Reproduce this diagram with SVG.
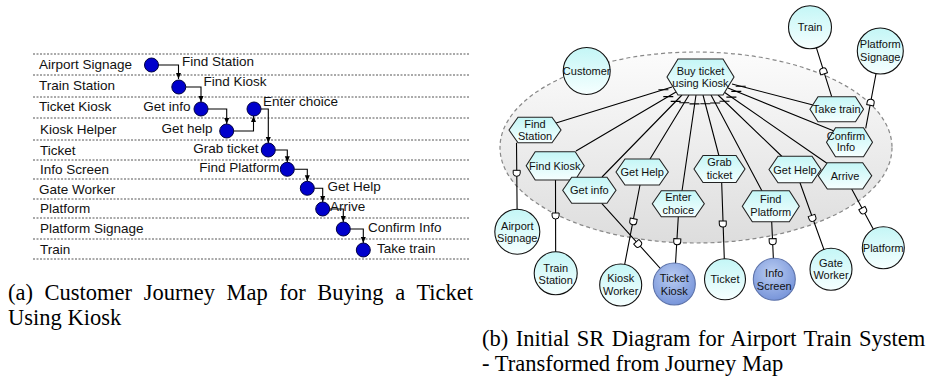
<svg xmlns="http://www.w3.org/2000/svg" width="935" height="381" viewBox="0 0 935 381">
<style>
.lane{stroke:#555;stroke-width:1;stroke-dasharray:2 1.5;fill:none}
.lt{font-family:"Liberation Sans",Arial,sans-serif;font-size:13.5px;fill:#111}
.ltr{font-family:"Liberation Sans",Arial,sans-serif;font-size:13.5px;fill:#111;text-anchor:end}
.dot{fill:#0000cc;stroke:#000040;stroke-width:1}
.flow{fill:none;stroke:#000;stroke-width:1.1;marker-end:url(#arr)}
.st{font-family:"Liberation Sans",Arial,sans-serif;font-size:11px;fill:#111;text-anchor:middle}
.act{fill:url(#gc);stroke:#111;stroke-width:1.1}
.actb{fill:url(#gb);stroke:#5d73aa;stroke-width:1.1}
.task{fill:url(#gc);stroke:#222;stroke-width:1.1}
.lnk{stroke:#000;stroke-width:1.1;fill:none}
.tick{stroke:#000;stroke-width:1.1}
.cap{font-family:"Liberation Serif","Times New Roman",serif;font-size:22.5px;fill:#000}
</style>
<defs>
<marker id="arr" viewBox="0 0 6 6" refX="6" refY="3" markerWidth="6" markerHeight="6" markerUnits="userSpaceOnUse" orient="auto"><path d="M0,0.5 L6,3 L0,5.5 Z" fill="#000"/></marker>
<linearGradient id="gc" x1="0" y1="0" x2="0" y2="1"><stop offset="0" stop-color="#c4f6f6"/><stop offset="1" stop-color="#f6ffff"/></linearGradient>
<radialGradient id="gb" cx="0.45" cy="0.35" r="0.65"><stop offset="0" stop-color="#b9ccf1"/><stop offset="1" stop-color="#7895da"/></radialGradient>
<linearGradient id="ge" x1="0" y1="0" x2="0" y2="1"><stop offset="0" stop-color="#fcfcfc"/><stop offset="1" stop-color="#dddddd"/></linearGradient>
<path id="dm" d="M-3.5,-3 H3.5 V0 A3.5,3 0 0 1 -3.5,0 Z" fill="#fff" stroke="#000" stroke-width="1"/>
</defs>

<!-- (a) Journey map -->
<g id="lanes">
<path class="lane" d="M33,54H470M33,75H470M33,97H470M33,118H470M33,140H470M33,160H470M33,179H470M33,199H470M33,218H470M33,239H470M33,259H470"/>
<text class="lt" x="39" y="68.5">Airport Signage</text>
<text class="lt" x="39" y="89.5">Train Station</text>
<text class="lt" x="39" y="110.5">Ticket Kiosk</text>
<text class="lt" x="40" y="133.5">Kiosk Helper</text>
<text class="lt" x="40" y="154.5">Ticket</text>
<text class="lt" x="40" y="173.5">Info Screen</text>
<text class="lt" x="39" y="193.5">Gate Worker</text>
<text class="lt" x="40" y="212.5">Platform</text>
<text class="lt" x="40" y="232.5">Platform Signage</text>
<text class="lt" x="40" y="253.5">Train</text>
</g>
<g id="journey-connectors">
<path class="flow" d="M158,65H178.5V79"/>
<path class="flow" d="M186,87H201V102"/>
<path class="flow" d="M208,109H226.7V124"/>
<path class="flow" d="M233.7,131H253.5V116"/>
<path class="flow" d="M261,109H268.3V143"/>
<path class="flow" d="M275.3,150H287.3V162.3"/>
<path class="flow" d="M294.3,169.3H307.3V181.3"/>
<path class="flow" d="M314.3,188.3H322.7V202"/>
<path class="flow" d="M329.7,209H343.3V222"/>
<path class="flow" d="M350.3,229H363.3V243"/>
</g>
<g id="j-find-station"><circle class="dot" cx="151.5" cy="65" r="7"/><text class="lt" x="182" y="66">Find Station</text></g>
<g id="j-find-kiosk"><circle class="dot" cx="178.8" cy="87" r="7"/><text class="lt" x="203.5" y="86">Find Kiosk</text></g>
<g id="j-get-info"><circle class="dot" cx="201" cy="109" r="7"/><text class="ltr" x="190.5" y="111">Get info</text></g>
<g id="j-get-help"><circle class="dot" cx="226.7" cy="131" r="7"/><text class="ltr" x="212.5" y="133">Get help</text></g>
<g id="j-enter-choice"><circle class="dot" cx="254" cy="109" r="7"/><text class="lt" x="263" y="106">Enter choice</text></g>
<g id="j-grab-ticket"><circle class="dot" cx="268.3" cy="150" r="7"/><text class="ltr" x="258.5" y="152.5">Grab ticket</text></g>
<g id="j-find-platform"><circle class="dot" cx="287.3" cy="169.3" r="7"/><text class="ltr" x="279.5" y="172">Find Platform</text></g>
<g id="j-get-help2"><circle class="dot" cx="307.3" cy="188.3" r="7"/><text class="lt" x="327.5" y="191">Get Help</text></g>
<g id="j-arrive"><circle class="dot" cx="322.7" cy="209" r="7"/><text class="lt" x="330" y="211">Arrive</text></g>
<g id="j-confirm-info"><circle class="dot" cx="343.3" cy="229" r="7"/><text class="lt" x="368" y="232">Confirm Info</text></g>
<g id="j-take-train"><circle class="dot" cx="363.3" cy="250" r="7"/><text class="lt" x="377" y="253">Take train</text></g>

<!-- (b) SR diagram -->
<g id="boundary"><ellipse cx="696" cy="147.5" rx="196" ry="95.5" fill="url(#ge)" stroke="#888" stroke-width="1.2" stroke-dasharray="4 3"/></g>
<g id="sr-connectors">
<path class="lnk" d="M556,123L672,87M576,151L676,92M602,177L682,95M650,159L689,95M682,191L696,95M719,156L703,95M762,191L711,95M782,156.5L718,95M828,164L724,92M834,131L728,88M813,105L732,84"/>
<path class="tick" d="M658.4,89.7h10M663.3,96.6h10M670.7,101.4h10M679.3,102.7h10M689.5,103.9h10M700.3,103.7h10M710.2,103h10M719.5,101.2h10M726.4,97.1h10M731.3,91.4h10M735.7,86.2h10"/>
<path class="lnk" d="M516.5,142.7L517.3,231.7M555.5,180L555.7,273.3M640,185L620.7,285M601.7,203.3L674.3,284M678.3,216.7L674.3,284M721.7,183L725,279.3M771.7,221.7L774.3,279.3M800,182.7L831,269.3M851.7,189L883.3,247.7M831.7,96.7L810,27.3M865.7,128.3L880.3,51"/>
<use href="#dm" transform="translate(516.7,173.3)"/>
<use href="#dm" transform="translate(555.6,216)"/>
<use href="#dm" transform="translate(633.2,221.7) rotate(10.6)"/>
<use href="#dm" transform="translate(638.3,244) rotate(-41.9)"/>
<use href="#dm" transform="translate(677.2,241.7) rotate(2.7)"/>
<use href="#dm" transform="translate(722.8,224) rotate(-1.7)"/>
<use href="#dm" transform="translate(772.7,241.7) rotate(-1.6)"/>
<use href="#dm" transform="translate(812.5,218.3) rotate(-19.1)"/>
<use href="#dm" transform="translate(863.3,210.7) rotate(-28.2)"/>
<use href="#dm" transform="translate(823.2,71) rotate(161.7)"/>
<use href="#dm" transform="translate(870.7,102.3) rotate(-169.2)"/>
</g>
<g id="t-buy-ticket"><polygon class="task" points="667,77 678,59 723,59 734,77 723,95 678,95"/><text class="st" x="700.5" y="74.5">Buy ticket</text><text class="st" x="700.5" y="87.2">using Kiosk</text></g>
<g id="t-find-station"><polygon class="task" points="509,130 518,117.3 552,117.3 561,130 552,142.7 518,142.7"/><text class="st" x="535" y="128">Find</text><text class="st" x="535" y="140">Station</text></g>
<g id="t-take-train"><polygon class="task" points="810,109.2 818,96.7 855.5,96.7 863.5,109.2 855.5,121.7 818,121.7"/><text class="st" x="836.7" y="113.2">Take train</text></g>
<g id="t-confirm-info"><polygon class="task" points="826.5,142.2 835.5,127.7 863.5,127.7 872.5,142.2 863.5,156.7 835.5,156.7"/><text class="st" x="846" y="139.7">Confirm</text><text class="st" x="846" y="151.3">Info</text></g>
<g id="t-find-kiosk"><polygon class="task" points="526.2,165.8 535.2,151.7 575.2,151.7 584.2,165.8 575.2,180 535.2,180"/><text class="st" x="554.8" y="169.8">Find Kiosk</text></g>
<g id="t-get-info"><polygon class="task" points="562.7,190.3 571.7,177.3 607,177.3 616,190.3 607,203.3 571.7,203.3"/><text class="st" x="589.3" y="194.3">Get info</text></g>
<g id="t-get-help1"><polygon class="task" points="616,172 625,159 659.3,159 668.3,172 659.3,185 625,185"/><text class="st" x="642.2" y="176">Get Help</text></g>
<g id="t-enter-choice"><polygon class="task" points="652.3,203.7 661.3,190.7 695.3,190.7 704.3,203.7 695.3,216.7 661.3,216.7"/><text class="st" x="678.3" y="200.7">Enter</text><text class="st" x="678.3" y="213.5">choice</text></g>
<g id="t-grab-ticket"><polygon class="task" points="694,169 703,155.5 736,155.5 745,169 736,182.5 703,182.5"/><text class="st" x="719.5" y="166.3">Grab</text><text class="st" x="719.5" y="179">ticket</text></g>
<g id="t-get-help2"><polygon class="task" points="769,169.5 778,156.2 812,156.2 821,169.5 812,182.7 778,182.7"/><text class="st" x="795" y="173.5">Get Help</text></g>
<g id="t-find-platform"><polygon class="task" points="742.3,206.2 752.3,190.7 789.3,190.7 799.3,206.2 789.3,221.7 752.3,221.7"/><text class="st" x="770.8" y="203.3">Find</text><text class="st" x="770.8" y="215.7">Platform</text></g>
<g id="t-arrive"><polygon class="task" points="818.3,175.8 827.3,162.7 862.7,162.7 871.7,175.8 862.7,189 827.3,189"/><text class="st" x="845" y="179.8">Arrive</text></g>

<g id="a-customer"><circle class="act" cx="586.7" cy="71" r="23.5"/><text class="st" x="586.7" y="75">Customer</text></g>
<g id="a-train"><circle class="act" cx="810" cy="27.3" r="21.5"/><text class="st" x="810" y="31.3">Train</text></g>
<g id="a-platform-signage"><circle class="act" cx="880.3" cy="51" r="23"/><text class="st" x="880.3" y="48">Platform</text><text class="st" x="880.3" y="60.5">Signage</text></g>
<g id="a-airport-signage"><circle class="act" cx="517.3" cy="231.7" r="22.5"/><text class="st" x="517.3" y="230">Airport</text><text class="st" x="517.3" y="242.3">Signage</text></g>
<g id="a-train-station"><circle class="act" cx="555.7" cy="273.3" r="21.5"/><text class="st" x="555.7" y="271.7">Train</text><text class="st" x="555.7" y="284">Station</text></g>
<g id="a-kiosk-worker"><circle class="act" cx="620.7" cy="285" r="21"/><text class="st" x="620.7" y="282.3">Kiosk</text><text class="st" x="620.7" y="294.7">Worker</text></g>
<g id="a-ticket-kiosk"><circle class="actb" cx="674.3" cy="284" r="21"/><text class="st" x="674.3" y="282.3">Ticket</text><text class="st" x="674.3" y="294.7">Kiosk</text></g>
<g id="a-ticket"><circle class="act" cx="725" cy="279.3" r="20.5"/><text class="st" x="725" y="283.3">Ticket</text></g>
<g id="a-info-screen"><circle class="actb" cx="774.3" cy="279.3" r="21"/><text class="st" x="774.3" y="277.3">Info</text><text class="st" x="774.3" y="289.7">Screen</text></g>
<g id="a-gate-worker"><circle class="act" cx="831" cy="269.3" r="21"/><text class="st" x="831" y="266.7">Gate</text><text class="st" x="831" y="279">Worker</text></g>
<g id="a-platform"><circle class="act" cx="883.3" cy="247.7" r="21"/><text class="st" x="883.3" y="251.7">Platform</text></g>

<g id="captions">
<text class="cap" x="8" y="300" word-spacing="6">(a) Customer Journey Map for Buying a Ticket</text>
<text class="cap" x="8" y="325">Using Kiosk</text>
<text class="cap" x="482" y="346" word-spacing="1.8">(b) Initial SR Diagram for Airport Train System</text>
<text class="cap" x="482" y="371">- Transformed from Journey Map</text>
</g>
</svg>
